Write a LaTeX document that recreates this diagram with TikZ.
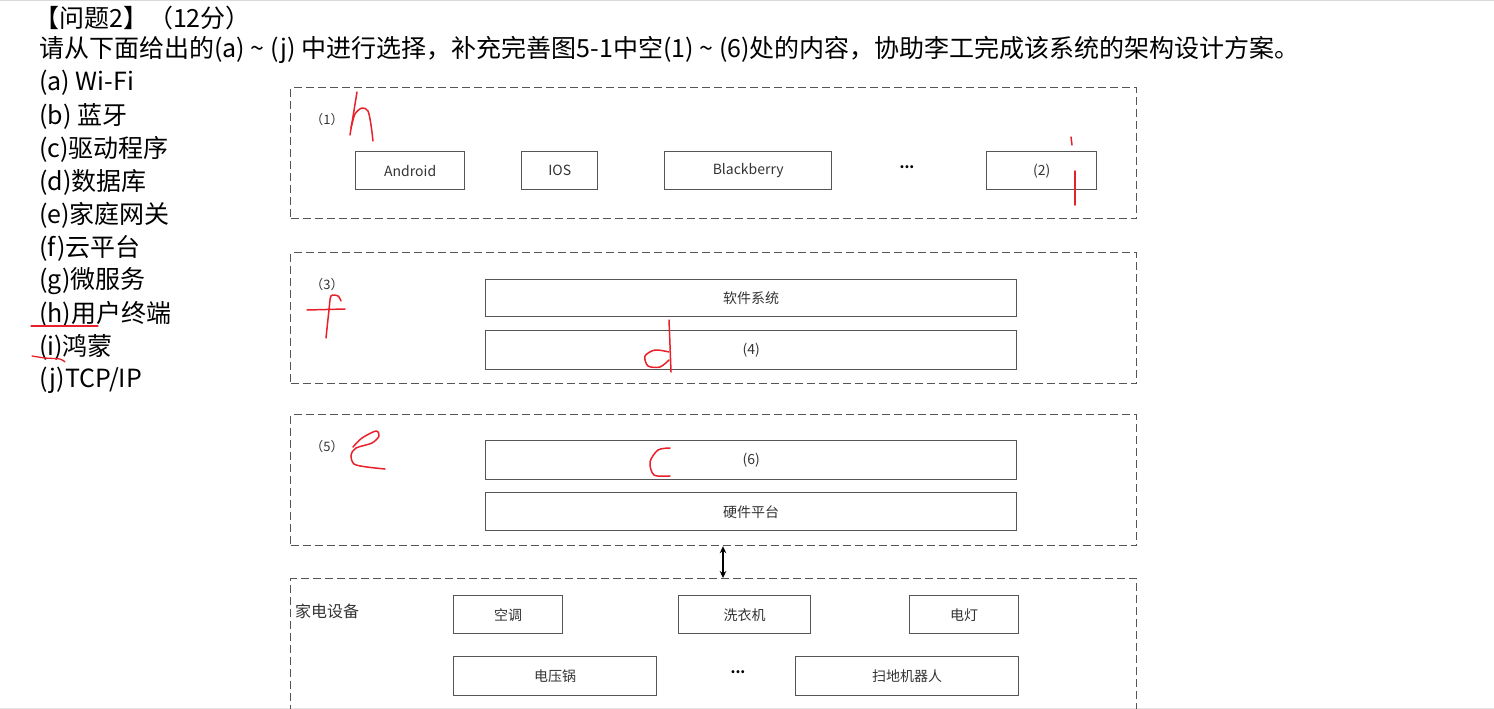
\documentclass[tikz,border=0pt]{standalone}
\usepackage{fontspec}
\setmainfont{Noto Sans CJK SC}
\usetikzlibrary{arrows.meta}
\definecolor{boxgray}{HTML}{555555}
\definecolor{txtgray}{HTML}{333333}
\definecolor{hand}{HTML}{E8202A}
\begin{document}
\begin{tikzpicture}[x=1pt,y=-1pt,
  layer/.style={draw=boxgray, line width=1.2pt, dash pattern=on 8pt off 4pt, anchor=north west, inner sep=0pt},
  item/.style={draw=boxgray, line width=1.4pt, anchor=north west, inner sep=0pt, text=txtgray, font=\fontsize{14}{14}\selectfont},
  small/.style={text=txtgray, font=\fontsize{13}{13}\selectfont, inner sep=0pt},
  dotsty/.style={text=black, font=\bfseries\fontsize{14}{14}\selectfont, inner sep=0pt},
  big/.style={anchor=west, inner sep=0pt, text=black, font=\fontsize{25}{25}\selectfont},
  redink/.style={draw=hand, line width=1.5pt, line cap=round, line join=round}]
\useasboundingbox (0,0) rectangle (1494,709);
\clip (0,0) rectangle (1494,709);
\draw[black!15, line width=1pt] (0,0.5) -- (1494,0.5);
\draw[black!10, line width=1pt] (0,708.5) -- (1494,708.5);

% question text
\node[big] (t0) at (34,18) {【问题2】（12分）};
\node[big] (t1) at (39,50) {请从下面给出的(a) \textasciitilde{} (j) 中进行选择，补充完善图5-1中空(1) \textasciitilde{} (6)处的内容，协助李工完成该系统的架构设计方案。};
\node[big] (la) at (39,83) {(a) Wi-Fi};
\node[big] (lb) at (39,116) {(b) 蓝牙};
\node[big] (lc) at (39,149) {(c)驱动程序};
\node[big] (ld) at (39,182) {(d)数据库};
\node[big] (le) at (39,215) {(e)家庭网关};
\node[big] (lf) at (39,248) {(f)云平台};
\node[big] (lg) at (39,281) {(g)微服务};
\node[big] (lh) at (39,314) {(h)用户终端};
\node[big] (li) at (39,347) {(i)鸿蒙};
\node[big] (lj) at (39,380) {(j)TCP/IP};

% layer 1
\node[layer, minimum width=846pt, minimum height=131pt] (L1) at (290,87) {};
\node[small] (n1) at (327,120) {（1）};
\node[item, minimum width=109pt, minimum height=38pt] (android) at (355,151) {Android};
\node[item, minimum width=76pt, minimum height=38pt] (ios) at (521,151) {IOS};
\node[item, minimum width=167pt, minimum height=38pt] (bb) at (664,151) {Blackberry};
\node[dotsty] (dots1) at (907,167) {...};
\node[item, minimum width=110pt, minimum height=38pt] (b2) at (986,151) {(2)};

% layer 3
\node[layer, minimum width=846pt, minimum height=131pt] (L3) at (290,252) {};
\node[small] (n3) at (327,285) {（3）};
\node[item, minimum width=531pt, minimum height=37pt] (soft) at (485,279) {软件系统};
\node[item, minimum width=531pt, minimum height=39pt] (b4) at (485,330) {(4)};

% layer 5
\node[layer, minimum width=846pt, minimum height=131pt] (L5) at (290,414) {};
\node[small] (n5) at (327,447) {（5）};
\node[item, minimum width=531pt, minimum height=39pt] (b6) at (485,440) {(6)};
\node[item, minimum width=531pt, minimum height=38pt] (hw) at (485,492) {硬件平台};

% home appliances
\node[layer, minimum width=846pt, minimum height=150pt] (L7) at (290,578) {};
\node[anchor=west, inner sep=0pt, text=txtgray, font=\fontsize{16}{16}\selectfont] (home) at (295,611) {家电设备};
\node[item, minimum width=109pt, minimum height=38pt] (kt) at (453,595) {空调};
\node[item, minimum width=132pt, minimum height=38pt] (xyj) at (678,595) {洗衣机};
\node[item, minimum width=109pt, minimum height=38pt] (dd) at (909,595) {电灯};
\node[item, minimum width=203pt, minimum height=39pt] (dyg) at (453,656) {电压锅};
\node[dotsty] (dots2) at (738,672) {...};
\node[item, minimum width=223pt, minimum height=39pt] (sd) at (795,656) {扫地机器人};

\coordinate (ax) at (723,0);
\draw[black, line width=1.3pt, {Stealth[length=7pt,width=6.5pt]}-{Stealth[length=7pt,width=6.5pt]}] (L5.south -| ax) -- (L7.north -| ax);

% handwritten marks
\draw[redink] (357,92) -- (350,135);
\draw[redink] plot[smooth] coordinates {(351,128) (355,114) (362,108) (368,111) (371,125) (373,141)};
\draw[redink] (1071,137) -- (1072,145);
\draw[redink] (1075,171) -- (1075,205);
\draw[redink] (307,310) -- (345,309);
\draw[redink] plot[smooth] coordinates {(341,301) (338,296) (331,296) (329,310) (326,338)};
\draw[redink] plot[smooth] coordinates {(669,320) (670,345) (671,372)};
\draw[redink] plot[smooth] coordinates {(669,352) (655,350) (645,356) (648,366) (660,367) (669,360)};
\draw[redink] plot[smooth] coordinates {(353,447) (362,438) (376,431) (379,436) (372,443) (356,448) (351,455) (354,464) (367,467) (385,469)};
\draw[redink] plot[smooth] coordinates {(670,448) (658,450) (650,462) (654,475) (670,476)};
\draw[redink, line width=1.3pt] (31,326) -- (98,326);
\draw[redink, line width=1.3pt] plot[smooth] coordinates {(32,356) (45,358) (60,359) (65,362)};
\end{tikzpicture}
\end{document}
